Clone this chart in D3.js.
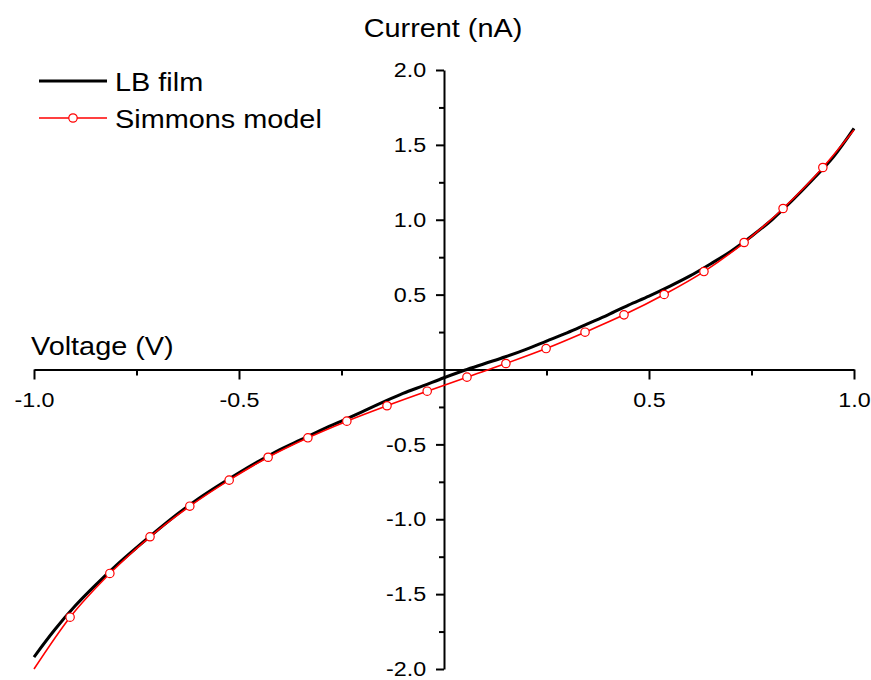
<!DOCTYPE html>
<html>
<head>
<meta charset="utf-8">
<title>I-V curve</title>
<script src="https://d3js.org/d3.v7.min.js"></script>
<style>
  body { margin: 0; background: #fff; }
  text { font-family: "Liberation Sans", Arial, sans-serif; fill: #000; }
</style>
</head>
<body>
<svg id="chart"></svg>
<script>
// measured LB film curve (V, nA)
var lbVoltage = [-1.00, -0.95, -0.90, -0.85, -0.80, -0.75, -0.70, -0.65, -0.60, -0.55,
  -0.50, -0.45, -0.40, -0.35, -0.30, -0.25, -0.20, -0.15, -0.10, -0.05,
  0.00, 0.05, 0.10, 0.15, 0.20, 0.25, 0.30, 0.35, 0.40, 0.45,
  0.50, 0.55, 0.60, 0.65, 0.70, 0.75, 0.80, 0.85, 0.90, 0.95, 1.00];
var lbCurrent = [-1.92, -1.74, -1.58, -1.44, -1.31, -1.19, -1.075, -0.965, -0.865, -0.775,
  -0.69, -0.61, -0.535, -0.47, -0.405, -0.345, -0.283, -0.22, -0.16, -0.108,
  -0.055, -0.005, 0.04, 0.085, 0.135, 0.19, 0.245, 0.305, 0.365, 0.43,
  0.49, 0.555, 0.625, 0.705, 0.79, 0.89, 1.00, 1.13, 1.27, 1.42, 1.61];

// Simmons model fit (first and last point carry no marker)
var simmonsVoltage = [-1.0, -0.912, -0.815, -0.717, -0.620, -0.524, -0.429, -0.332, -0.237, -0.139,
  -0.041, 0.056, 0.151, 0.249, 0.344, 0.439, 0.537, 0.634, 0.732, 0.827, 0.924, 1.0];
var simmonsCurrent = [-2.0, -1.654, -1.362, -1.117, -0.913, -0.739, -0.586, -0.456, -0.345, -0.242,
  -0.145, -0.051, 0.040, 0.140, 0.249, 0.365, 0.501, 0.654, 0.848, 1.075, 1.349, 1.60];

var xMajorTicks = [-1.0, -0.5, 0.5, 1.0];
var xMinorTicks = [-0.75, -0.25, 0.25, 0.75];
var yMajorTicks = [-2.0, -1.5, -1.0, -0.5, 0.5, 1.0, 1.5, 2.0];
var yMinorTicks = [-1.75, -1.25, -0.75, -0.25, 0.25, 0.75, 1.25, 1.75];
var seriesNames = ["LB film", "Simmons model"];
var xTitle = "Voltage (V)";
var yTitle = "Current (nA)";

var width = 871, height = 680;
var stretch = 1.11; // the source picture is a bit wider than tall

var svg = d3.select("#chart")
  .attr("width", width)
  .attr("height", height);

var x = d3.scaleLinear().domain([-1, 1]).range([34, 854]);
var y = d3.scaleLinear().domain([-2, 2]).range([669, 70]);

var fmt = function(d) { return d.toFixed(1); };

// x axis through y = 0
var gx = svg.append("g").attr("transform", "translate(0," + y(0) + ")");
gx.call(d3.axisBottom(x).tickValues(xMajorTicks).tickFormat(fmt).tickSize(10).tickPadding(13).tickSizeOuter(0));
gx.append("g").call(d3.axisBottom(x).tickValues(xMinorTicks).tickFormat("").tickSize(6).tickSizeOuter(0))
  .select(".domain").remove();

// y axis through x = 0
var gy = svg.append("g").attr("transform", "translate(" + x(0) + ",0)");
gy.call(d3.axisLeft(y).tickValues(yMajorTicks).tickFormat(fmt).tickSize(8).tickPadding(8).tickSizeOuter(0));
gy.append("g").call(d3.axisLeft(y).tickValues(yMinorTicks).tickFormat("").tickSize(5).tickSizeOuter(0))
  .select(".domain").remove();

svg.selectAll(".domain").attr("stroke", "#000").attr("stroke-width", 2);
svg.selectAll(".tick line").attr("stroke", "#000").attr("stroke-width", 2);
svg.selectAll(".tick text")
  .attr("font-family", "Liberation Sans, Arial, sans-serif")
  .attr("font-size", 21)
  .attr("fill", "#000")
  .attr("transform", "scale(" + stretch + ",1)");

// axis titles
svg.append("text")
  .attr("transform", "translate(" + (x(0) - 1) + ",37) scale(" + stretch + ",1)")
  .attr("text-anchor", "middle")
  .attr("font-size", 26)
  .text(yTitle);

svg.append("text")
  .attr("transform", "translate(31,355) scale(" + stretch + ",1)")
  .attr("font-size", 26)
  .text(xTitle);

// curves
var lbData = lbVoltage.map(function(v, i) { return [v, lbCurrent[i]]; });
var simData = simmonsVoltage.map(function(v, i) { return [v, simmonsCurrent[i]]; });

var line = d3.line()
  .x(function(d) { return x(d[0]); })
  .y(function(d) { return y(d[1]); })
  .curve(d3.curveMonotoneX);

svg.append("path")
  .datum(lbData)
  .attr("fill", "none")
  .attr("stroke", "#000")
  .attr("stroke-width", 3)
  .attr("d", line);

svg.append("path")
  .datum(simData)
  .attr("fill", "none")
  .attr("stroke", "#ff0000")
  .attr("stroke-width", 1.6)
  .attr("d", line);

svg.selectAll(".marker")
  .data(simData.slice(1, simData.length - 1))
  .enter().append("circle")
  .attr("class", "marker")
  .attr("cx", function(d) { return x(d[0]); })
  .attr("cy", function(d) { return y(d[1]); })
  .attr("r", 4.2)
  .attr("fill", "#fff")
  .attr("stroke", "#ff0000")
  .attr("stroke-width", 1.2);

// legend
var legend = svg.append("g");
legend.append("line")
  .attr("x1", 39).attr("x2", 107).attr("y1", 81).attr("y2", 81)
  .attr("stroke", "#000").attr("stroke-width", 3);
legend.append("line")
  .attr("x1", 39).attr("x2", 107).attr("y1", 118).attr("y2", 118)
  .attr("stroke", "#ff0000").attr("stroke-width", 1.6);
legend.append("circle")
  .attr("cx", 73).attr("cy", 118).attr("r", 4.2)
  .attr("fill", "#fff").attr("stroke", "#ff0000").attr("stroke-width", 1.2);

legend.selectAll(".label")
  .data(seriesNames)
  .enter().append("text")
  .attr("class", "label")
  .attr("transform", function(d, i) { return "translate(115," + (91 + i * 37) + ") scale(" + stretch + ",1)"; })
  .attr("font-size", 26)
  .text(function(d) { return d; });
</script>
</body>
</html>
